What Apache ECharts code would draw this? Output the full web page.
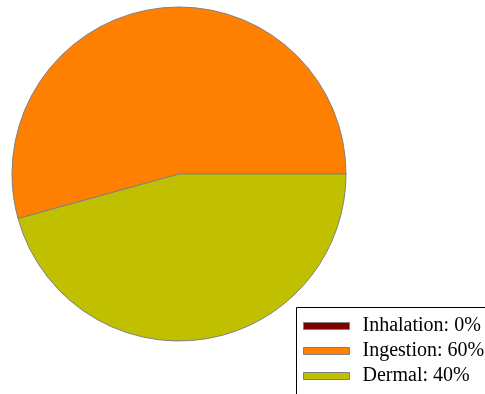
<!DOCTYPE html>
<html><head><meta charset="utf-8">
<script src="https://cdn.jsdelivr.net/npm/echarts@6/dist/echarts.min.js"></script>
<style>html,body{margin:0;padding:0;background:#fff}#c{width:485px;height:394px}</style>
</head><body><div id="c"></div>
<script>
var categories = ['Inhalation', 'Ingestion', 'Dermal'];
var values = [0, 54.3, 45.7];
var legendLabels = ['Inhalation: 0%', 'Ingestion: 60%', 'Dermal: 40%'];
var colors = ['#800000', '#FF8000', '#C0C000'];

var chart = echarts.init(document.getElementById('c'), null, {renderer: 'canvas'});
var data = categories.map(function (c, i) {
  return {name: c, value: values[i], itemStyle: {color: colors[i]}};
});
chart.setOption({
  animation: false,
  backgroundColor: '#ffffff',
  graphic: [{
    type: 'rect', z: 0, silent: true,
    shape: {x: 296.5, y: 307.5, width: 300, height: 200},
    style: {fill: '#fff', stroke: '#000', lineWidth: 1}
  }],
  legend: {
    orient: 'vertical',
    left: 303, top: 316,
    padding: 0,
    z: 10,
    itemWidth: 46, itemHeight: 7, itemGap: 5,
    icon: 'rect',
    itemStyle: {borderColor: '#808080', borderWidth: 1},
    textStyle: {fontFamily: 'Liberation Serif', fontSize: 20, color: '#000', padding: [0, 0, 0, 8]},
    formatter: function (n) { return legendLabels[categories.indexOf(n)]; },
    data: categories
  },
  series: [{
    type: 'pie',
    center: [179, 174],
    radius: [0, 167],
    startAngle: 0,
    clockwise: false,
    label: {show: false},
    labelLine: {show: false},
    emphasis: {disabled: true},
    itemStyle: {borderColor: '#808080', borderWidth: 1},
    data: data
  }]
});
</script></body></html>
